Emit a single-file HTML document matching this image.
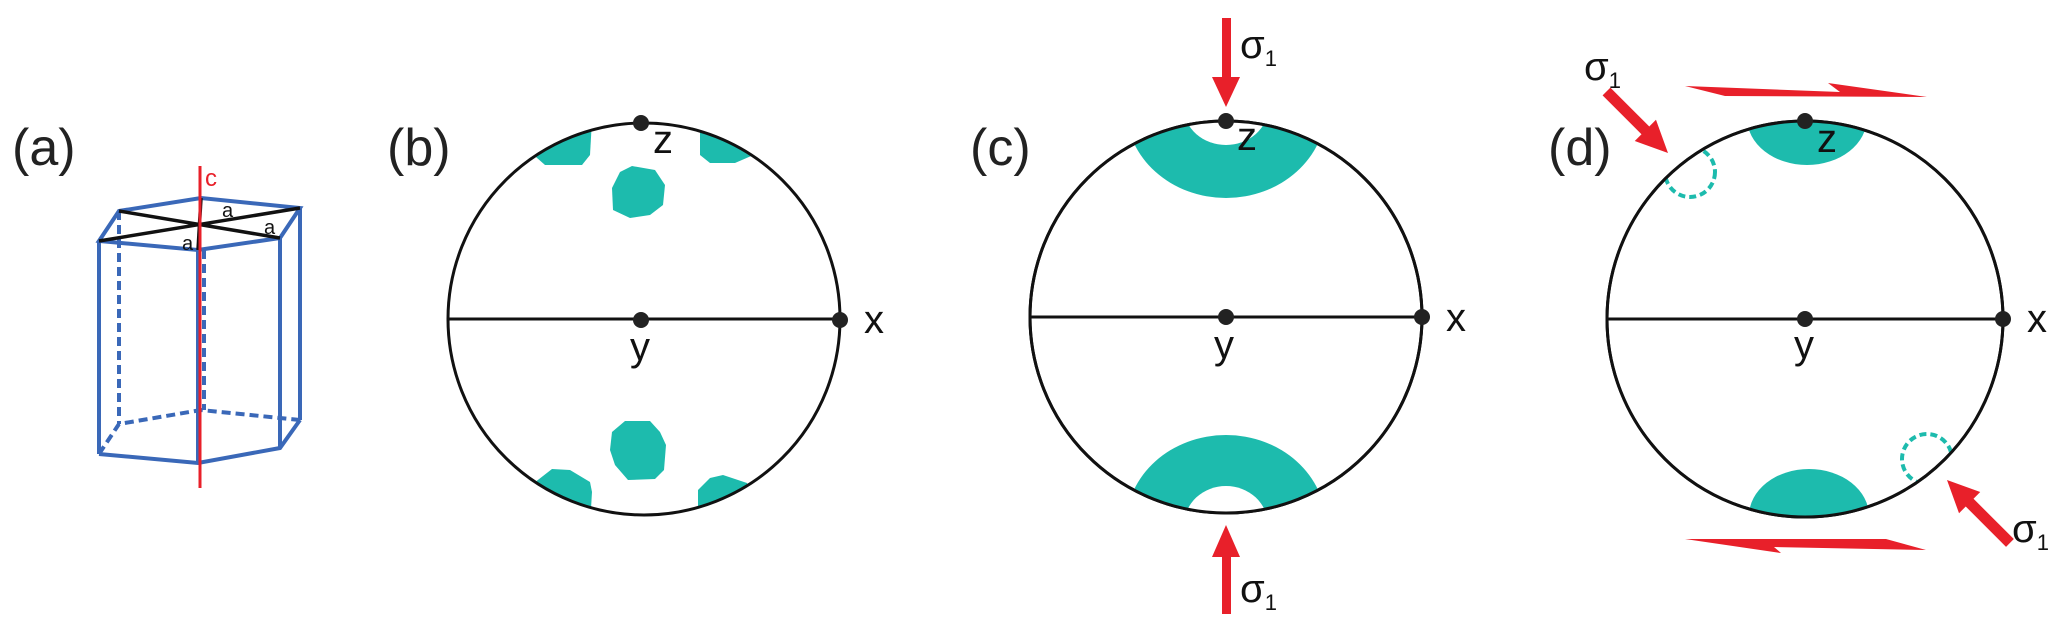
<!DOCTYPE html>
<html><head><meta charset="utf-8"><style>
html,body{margin:0;padding:0;background:#fff;}
svg{display:block;}
text{font-family:"Liberation Sans",sans-serif;}
</style></head><body>
<svg width="2067" height="633" viewBox="0 0 2067 633" xmlns="http://www.w3.org/2000/svg">
<defs>
<clipPath id="cb"><circle cx="644" cy="319" r="196"/></clipPath>
<clipPath id="cc"><circle cx="1226" cy="317" r="196"/></clipPath>
<clipPath id="cd"><circle cx="1805" cy="319" r="198"/></clipPath>
</defs>
<g font-size="52" fill="#222">
<text x="12" y="165">(a)</text>
<text x="387" y="165">(b)</text>
<text x="970" y="165">(c)</text>
<text x="1548" y="165">(d)</text>
</g>
<!-- (a) prism -->
<g stroke="#3a68b8" stroke-width="4" fill="none">
<polygon points="119,211 201,198 300,208 280,238 198,250 99,241"/>
<line x1="99" y1="241" x2="99" y2="454"/>
<line x1="198" y1="250" x2="198" y2="463"/>
<line x1="280" y1="238" x2="280" y2="448"/>
<line x1="300" y1="208" x2="300" y2="420"/>
<polyline points="99,454 198,463 280,448 300,420"/>
<g stroke-dasharray="9,5">
<line x1="119" y1="211" x2="119" y2="424"/>
<line x1="204" y1="250" x2="204" y2="410"/>
<polyline points="99,454 119,424 201,410 300,420"/>
</g>
</g>
<g stroke="#111" stroke-width="3.5">
<line x1="119" y1="211" x2="280" y2="238"/>
<line x1="99" y1="241" x2="300" y2="208"/>
<line x1="201" y1="198" x2="198" y2="250"/>
</g>
<line x1="200" y1="166" x2="200" y2="488" stroke="#e8202a" stroke-width="3"/>
<text x="205" y="186" font-size="24" fill="#e8202a">c</text>
<g font-size="20" fill="#111">
<text x="222" y="217">a</text><text x="264" y="234">a</text><text x="182" y="250">a</text>
</g>
<!-- (b) -->
<g fill="#1dbbad" clip-path="url(#cb)">
<polygon points="525,120 592,120 590,155 582,165 545,165 528,150"/>
<polygon points="700,120 765,120 765,150 735,163 710,163 700,155"/>
<polygon points="632,166 655,170 665,185 663,205 650,215 630,218 613,210 612,188 620,172"/>
<polygon points="625,421 650,421 660,432 666,445 664,470 655,479 628,480 615,465 610,450 612,432"/>
<polygon points="525,490 552,469 570,470 590,482 592,492 590,525 525,525"/>
<polygon points="698,490 710,478 723,475 747,483 765,525 698,525"/>
</g>
<g stroke="#111" fill="none" stroke-width="3">
<circle cx="644" cy="319" r="196"/>
<line x1="448" y1="319" x2="840" y2="319"/>
<circle cx="1226" cy="317" r="196"/>
<line x1="1030" y1="317" x2="1422" y2="317"/>
<circle cx="1805" cy="319" r="198"/>
<line x1="1607" y1="319" x2="2003" y2="319"/>
</g>
<!-- (c) teal -->
<g clip-path="url(#cc)">
<ellipse cx="1226" cy="108" rx="100" ry="90" fill="#1dbbad"/>
<ellipse cx="1226" cy="108" rx="42" ry="37" fill="#fff"/>
<ellipse cx="1226" cy="525" rx="100" ry="90" fill="#1dbbad"/>
<ellipse cx="1226" cy="525" rx="42" ry="39" fill="#fff"/>
</g>
<!-- (d) teal -->
<g clip-path="url(#cd)" fill="#1dbbad">
<ellipse cx="1807" cy="118" rx="60" ry="47"/>
<ellipse cx="1809" cy="516" rx="60" ry="47"/>
</g>
<g clip-path="url(#cd)" fill="none" stroke="#1dbbad" stroke-width="4" stroke-dasharray="7,4">
<circle cx="1690" cy="172" r="25"/>
<circle cx="1927" cy="459" r="25"/>
</g>
<g stroke="#111" fill="none" stroke-width="3">
<circle cx="1226" cy="317" r="196"/>
<circle cx="1805" cy="319" r="198"/>
</g>
<!-- dots -->
<g fill="#222">
<circle cx="641" cy="123" r="8"/><circle cx="641" cy="320" r="8"/><circle cx="840" cy="320" r="8"/>
<circle cx="1226" cy="121" r="8"/><circle cx="1226" cy="317" r="8"/><circle cx="1422" cy="317" r="8"/>
<circle cx="1805" cy="121" r="8"/><circle cx="1805" cy="319" r="8"/><circle cx="2003" cy="319" r="8"/>
</g>
<g font-size="40" fill="#111">
<text x="653" y="153">z</text><text x="864" y="333">x</text><text x="630" y="360">y</text>
<text x="1237" y="150">z</text><text x="1446" y="331">x</text><text x="1214" y="358">y</text>
<text x="1817" y="152">z</text><text x="2027" y="332">x</text><text x="1794" y="358">y</text>
</g>
<!-- red arrows -->
<g fill="#e8202a">
<rect x="1222" y="18" width="9" height="62"/>
<polygon points="1212,77 1240,77 1226,107"/>
<rect x="1222" y="553" width="9" height="61"/>
<polygon points="1212,557 1240,557 1226,525"/>
<g transform="translate(1668,153) rotate(-45)">
<polygon points="0,0 -15,-32 15,-32"/>
<rect x="-5.5" y="-87" width="11" height="58"/>
</g>
<g transform="translate(1947,480) rotate(135)">
<polygon points="0,0 -15,-32 15,-32"/>
<rect x="-5.5" y="-89" width="11" height="60"/>
</g>
<polygon points="1685,86 1840,92 1828,83 1927,97 1725,96"/>
<polygon points="1685,539 1886,539 1926,550 1774,547 1781,553"/>
</g>
<g font-size="40" fill="#111">
<text x="1240" y="58">σ<tspan font-size="22" dy="8">1</tspan></text>
<text x="1240" y="602">σ<tspan font-size="22" dy="8">1</tspan></text>
<text x="1584" y="80">σ<tspan font-size="22" dy="8">1</tspan></text>
<text x="2012" y="542">σ<tspan font-size="22" dy="8">1</tspan></text>
</g>
</svg>
</body></html>
